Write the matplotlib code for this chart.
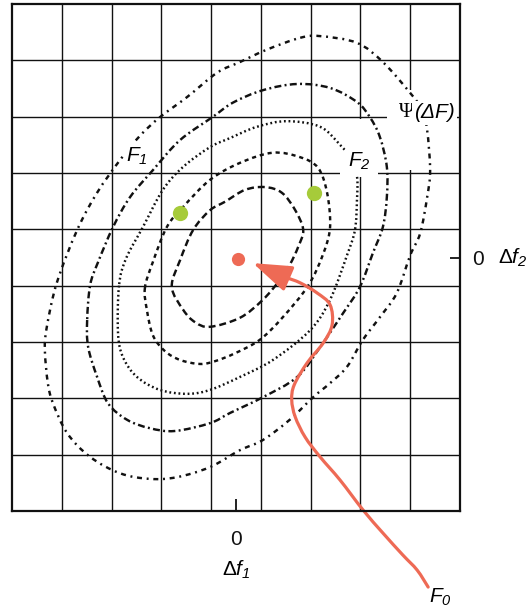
import numpy as np
import matplotlib
matplotlib.use("Agg")
import matplotlib.pyplot as plt
from matplotlib.path import Path
from matplotlib.patches import PathPatch, Rectangle

plt.rcParams['font.family'] = ['Liberation Sans', 'DejaVu Sans']
plt.rcParams['mathtext.fontset'] = 'custom'
plt.rcParams['mathtext.rm'] = 'Liberation Sans:italic'
plt.rcParams['mathtext.it'] = 'Liberation Sans:italic'
plt.rcParams['mathtext.sf'] = 'Liberation Sans'
plt.rcParams['mathtext.bf'] = 'Liberation Sans:bold'
plt.rcParams['lines.scale_dashes'] = False

# ---------------- data (grid units) ----------------
grid_lines = [-3.5, -2.5, -1.5, -0.5, 0.5, 1.5, 2.5, 3.5]

c1_x = [-1.29, -1.12, -0.86, -0.52, -0.22, 0.18, 0.58, 0.92, 1.19, 1.35, 1.25, 1.08, 0.88, 0.54, 0.08, -0.52, -0.82, -1.06]
c1_y = [-0.52, -0.04, 0.49, 0.84, 0.99, 1.20, 1.25, 1.15, 0.84, 0.49, 0.19, -0.13, -0.40, -0.75, -1.07, -1.23, -1.15, -0.93]

c2_x = [-1.83, -1.79, -1.67, -1.43, -1.12, -0.72, -0.42, -0.02, 0.48, 0.94, 1.45, 1.75, 1.89, 1.83, 1.65, 1.29, 0.74, 0.08, -0.52, -1.06, -1.39, -1.67]
c2_y = [-0.54, -0.93, -1.38, -1.66, -1.82, -1.89, -1.84, -1.70, -1.46, -1.06, -0.50, 0.06, 0.54, 1.15, 1.59, 1.78, 1.86, 1.68, 1.38, 0.90, 0.54, -0.08]

c3_x = [-2.35, -2.37, -2.27, -1.99, -1.53, -0.98, -0.52, 0.08, 0.74, 1.49, 1.89, 2.23, 2.39, 2.43, 2.43, 2.29, 2.09, 1.69, 1.02, 0.42, -0.12, -0.52, -1.06, -1.47, -1.87, -2.21]
c3_y = [-0.50, -1.34, -1.77, -2.12, -2.35, -2.42, -2.35, -2.12, -1.82, -1.29, -0.75, 0.04, 0.49, 1.02, 1.44, 1.77, 2.00, 2.32, 2.42, 2.32, 2.12, 1.96, 1.61, 1.20, 0.54, -0.02]

c4_x = [-2.99, -2.97, -2.79, -2.57, -2.19, -1.73, -1.23, -0.52, -0.12, 0.54, 1.23, 1.69, 2.15, 2.49, 2.75, 2.95, 3.03, 3.03, 2.89, 2.69, 2.43, 1.89, 1.23, 0.54, -0.06, -0.46, -1.13, -1.67, -2.13, -2.47, -2.77, -2.93]
c4_y = [-1.11, -1.59, -2.12, -2.59, -2.88, -3.03, -3.08, -2.94, -2.76, -2.48, -2.12, -1.59, -0.99, -0.52, 0.08, 0.54, 1.07, 1.61, 2.14, 2.49, 2.76, 3.01, 3.08, 2.97, 2.75, 2.50, 2.08, 1.55, 1.07, 0.54, -0.08, -0.49]

c5_x = [1.29, 1.69, 2.43, 2.95, 3.50, 3.74, 3.84, 3.90, 3.84, 3.70, 3.50, 3.23, 2.89, 2.55, 2.23, 1.89, 1.55, 1.08, 0.54, 0.08, -0.52, -1.19, -1.73, -2.33, -2.93, -3.39, -3.68, -3.78, -3.84, -3.80, -3.60, -3.19, -2.79, -2.33, -1.93, -1.53, -0.98, -0.38, 0.08, 0.62]
c5_y = [3.90, 3.93, 3.81, 3.47, 2.92, 2.62, 2.26, 1.55, 1.07, 0.43, 0.04, -0.63, -1.06, -1.46, -1.94, -2.23, -2.48, -2.88, -3.24, -3.42, -3.72, -3.90, -3.93, -3.83, -3.54, -3.12, -2.58, -2.23, -1.64, -1.23, -0.45, 0.49, 1.15, 1.73, 2.16, 2.49, 2.85, 3.28, 3.47, 3.69]

arrow_x = [3.86, 3.64, 3.35, 2.95, 2.55, 2.09, 1.69, 1.39, 1.19, 1.12, 1.17, 1.43, 1.75, 1.93, 1.89, 1.63, 1.29, 1.02]
arrow_y = [-5.85, -5.55, -5.28, -4.89, -4.48, -3.95, -3.54, -3.19, -2.83, -2.53, -2.26, -1.87, -1.52, -1.20, -0.84, -0.63, -0.45, -0.36]
arrow_tip = (0.34, -0.10)

green_x = [-1.12, 1.57]
green_y = [0.79, 1.15]
red_x = [0.05]
red_y = [-0.03]

label_F1 = (-1.99, 1.80)
label_F2 = (2.47, 1.70)
label_psi = (3.58, 2.57)
label_F0 = (4.10, -6.03)

BLACK = '#111111'
GREEN = '#A6CB3A'
RED = '#EE6A55'


def smooth_path(xs, ys, closed=True):
    pts = np.column_stack([xs, ys]).astype(float)
    n = len(pts)
    verts = [pts[0]]
    codes = [Path.MOVETO]
    rng = range(n) if closed else range(n - 1)
    for i in rng:
        p0 = pts[(i - 1) % n] if (closed or i > 0) else pts[i]
        p1 = pts[i]
        p2 = pts[(i + 1) % n]
        p3 = pts[(i + 2) % n] if (closed or i + 2 < n) else pts[i + 1]
        c1 = p1 + (p2 - p0) / 6.0
        c2 = p2 - (p3 - p1) / 6.0
        verts += [c1, c2, p2]
        codes += [Path.CURVE4] * 3
    return Path(verts, codes)


fig = plt.figure(figsize=(5.27, 6.11), dpi=100)
ax = fig.add_axes([12 / 527, 1 - 511 / 611, 448 / 527, 507 / 611])
ax.set_xlim(-4.5, 4.5)
ax.set_ylim(-4.5, 4.5)

for g in grid_lines:
    ax.axvline(g, color=BLACK, lw=1.0, zorder=1)
    ax.axhline(g, color=BLACK, lw=1.0, zorder=1)

# gaps in the grid behind the labels
ax.add_patch(Rectangle((3.03, 1.55), 1.41, 1.42, facecolor='white', edgecolor='none', zorder=1.5))
ax.add_patch(Rectangle((2.09, 1.43), 0.76, 1.03, facecolor='white', edgecolor='none', zorder=1.5))

contours = [
    (c1_x, c1_y, (0, (5.0, 2.8))),
    (c2_x, c2_y, (0, (3.0, 2.8))),
    (c3_x, c3_y, (0, (1.3, 2.0))),
    (c4_x, c4_y, (0, (5.0, 2.4, 1.4, 2.4))),
    (c5_x, c5_y, (0, (3.6, 3.4, 1.4, 3.4))),
]
for xs, ys, ls in contours:
    ax.add_patch(PathPatch(smooth_path(xs, ys), facecolor='none', edgecolor=BLACK,
                           lw=1.75, linestyle=ls, zorder=2))

box = dict(boxstyle='square,pad=0.12', facecolor='white', edgecolor='none')
ax.text(*label_F1, r'$F_1$', fontsize=15, ha='center', va='center', bbox=box, zorder=3)
ax.text(*label_F2, r'$F_2$', fontsize=15, ha='center', va='center', bbox=box, zorder=3)
ax.text(label_psi[0], label_psi[1], 'Ψ', family='Liberation Serif', fontsize=15, ha='right', va='center', bbox=box, zorder=3)
ax.text(label_psi[0], label_psi[1], '(ΔF)', fontstyle='italic', fontsize=15, ha='left', va='center', bbox=box, zorder=3)
ax.text(*label_F0, r'$F_0$', fontsize=15, ha='center', va='center', zorder=3, clip_on=False)

# points
ax.plot(green_x, green_y, 'o', color=GREEN, ms=11, mec='none', zorder=4)
ax.plot(red_x, red_y, 'o', color=RED, ms=9.5, mec='none', zorder=4)

# red arrow
ax.add_patch(PathPatch(smooth_path(arrow_x, arrow_y, closed=False), facecolor='none',
                       edgecolor=RED, lw=2.3, zorder=5, clip_on=False, capstyle='round'))
ax.annotate('', xy=arrow_tip, xytext=(arrow_x[-1], arrow_y[-1]),
            arrowprops=dict(arrowstyle='-|>,head_length=1.6,head_width=0.55', color=RED,
                            lw=2.3, shrinkA=0, shrinkB=0, mutation_scale=15), zorder=5)

# axes styling
for s in ax.spines.values():
    s.set_linewidth(1.6)
    s.set_color(BLACK)
    s.set_zorder(6)

ax.set_xticks([0])
ax.set_xticklabels(['0'], fontstyle='normal')
ax.set_yticks([0])
ax.set_yticklabels(['0'], fontstyle='normal')
ax.yaxis.tick_right()
ax.tick_params(axis='x', direction='in', length=8.5, width=1.3, pad=13.5, labelsize=15, colors=BLACK)
ax.tick_params(axis='y', direction='in', length=7.5, width=1.3, pad=9, labelsize=15, colors=BLACK)
ax.set_xlabel(r'$\mathsf{\Delta}f_1$', fontsize=15, labelpad=7)
ax.annotate(r'$\mathsf{\Delta}f_2$', xy=(1, 0), xycoords=('axes fraction', 'data'),
            xytext=(27, 0), textcoords='offset points', ha='left', va='center',
            fontsize=15, annotation_clip=False)

fig.savefig('out.png', dpi=100)
